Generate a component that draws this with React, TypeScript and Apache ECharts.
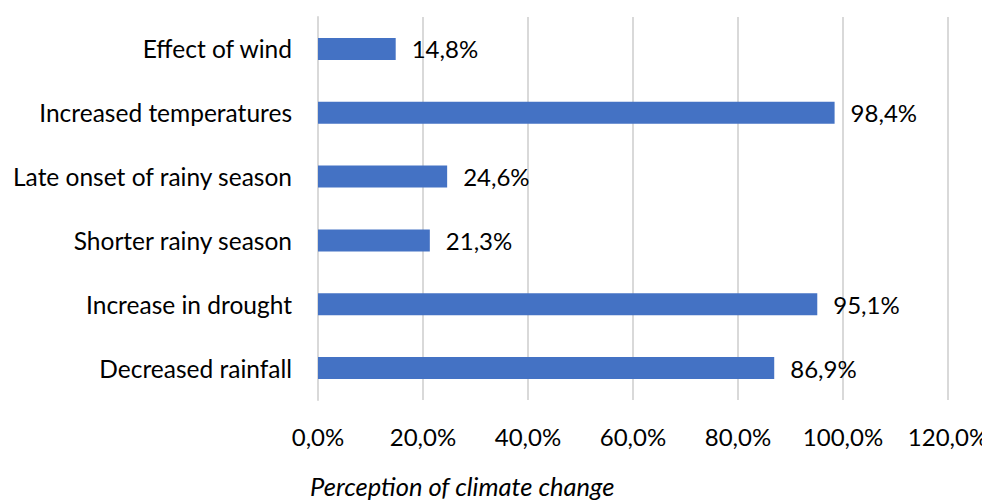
import React, { useEffect, useRef } from "react";
import * as echarts from "echarts";

// Categories listed bottom to top (category axis on y starts at the bottom)
const categories = [
  "Decreased rainfall",
  "Increase in drought",
  "Shorter rainy season",
  "Late onset of rainy season",
  "Increased temperatures",
  "Effect of wind",
];
const percentages = [86.9, 95.1, 21.3, 24.6, 98.4, 14.8];
const xTicks = [0, 20, 40, 60, 80, 100, 120];
const axisTitle = "Perception of climate change";

const fmt = (v: number) => v.toFixed(1).replace(".", ",") + "%";

export default function App() {
  const ref = useRef<HTMLDivElement>(null);

  useEffect(() => {
    if (!ref.current) return;
    const chart = echarts.init(ref.current, undefined, { renderer: "svg" });
    const font = "Lato";
    chart.setOption({
      animation: false,
      backgroundColor: "#ffffff",
      grid: { left: 310, right: 50, top: 9, bottom: 108, containLabel: false },
      xAxis: {
        type: "value",
        min: xTicks[0],
        max: xTicks[xTicks.length - 1],
        interval: 20,
        axisLine: { show: false },
        axisTick: { show: false },
        splitLine: { show: true, lineStyle: { color: "#d9d9d9", width: 2 } },
        axisLabel: {
          margin: 24,
          color: "#000",
          fontFamily: font,
          fontSize: 24,
          formatter: (v: number) => fmt(v),
        },
      },
      yAxis: {
        type: "category",
        data: categories,
        axisLine: { show: true, lineStyle: { color: "#d9d9d9", width: 2 } },
        axisTick: { show: false },
        axisLabel: {
          margin: 26,
          color: "#000",
          fontFamily: font,
          fontSize: 24.5,
        },
      },
      series: [
        {
          type: "bar",
          data: percentages,
          barWidth: 22,
          itemStyle: { color: "#4472c4" },
          label: {
            show: true,
            position: "right",
            distance: 16,
            color: "#000",
            fontFamily: font,
            fontSize: 24,
            formatter: (p: any) => fmt(p.value),
          },
        },
      ],
      graphic: [
        {
          type: "text",
          left: 302,
          top: 465,
          style: {
            text: axisTitle,
            fill: "#000",
            font: `italic 25.5px "${font}"`,
          },
        },
      ],
    });
    return () => chart.dispose();
  }, []);

  return <div ref={ref} style={{ width: 990, height: 500 }} />;
}
